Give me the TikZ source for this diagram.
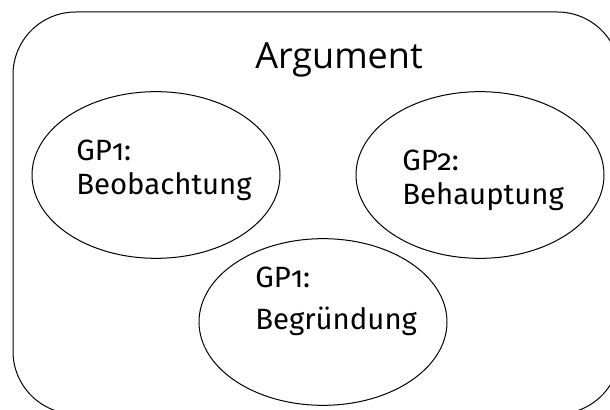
\documentclass[tikz,border=0pt]{standalone}
\usepackage{fontspec}
\setmainfont{Open Sans}
\newfontfamily\gpfont[Numbers=OldStyle]{Fira Sans}
\usetikzlibrary{shapes.geometric}

\begin{document}
\begin{tikzpicture}[x=0.75pt, y=-0.75pt,
    gpellipse/.style={ellipse, draw, line width=0.75pt, minimum width=186pt,
                      minimum height=125pt, inner sep=0pt},
    gptext/.style={align=left, anchor=north west, inner sep=0pt,
                   font=\gpfont\fontsize{22}{25}\selectfont}]
  \useasboundingbox (0,0) rectangle (610,410);
  \clip (0,0) rectangle (610,410);

  % Frame
  \draw[line width=0.75pt, rounded corners=47pt] (13,12) rectangle (620,414);
  \node[anchor=base west, inner sep=0pt, font=\fontsize{27}{32}\selectfont]
    (title) at (255,69) {Argument};

  % Ellipses
  \node[gpellipse] (beob) at (156,175) {};
  \node[gpellipse] (behaupt) at (480,175) {};
  \node[gpellipse] (begr) at (323,322) {};

  % Labels
  \node[gptext] (beob-text) at (76,140) {GP1:\\Beobachtung};
  \node[gptext] (behaupt-text) at (402,150) {GP2:\\Behauptung};
  \node[gptext, font=\gpfont\fontsize{22}{31}\selectfont]
    (begr-text) at (255,267) {GP1:\\Begründung};
\end{tikzpicture}
\end{document}
